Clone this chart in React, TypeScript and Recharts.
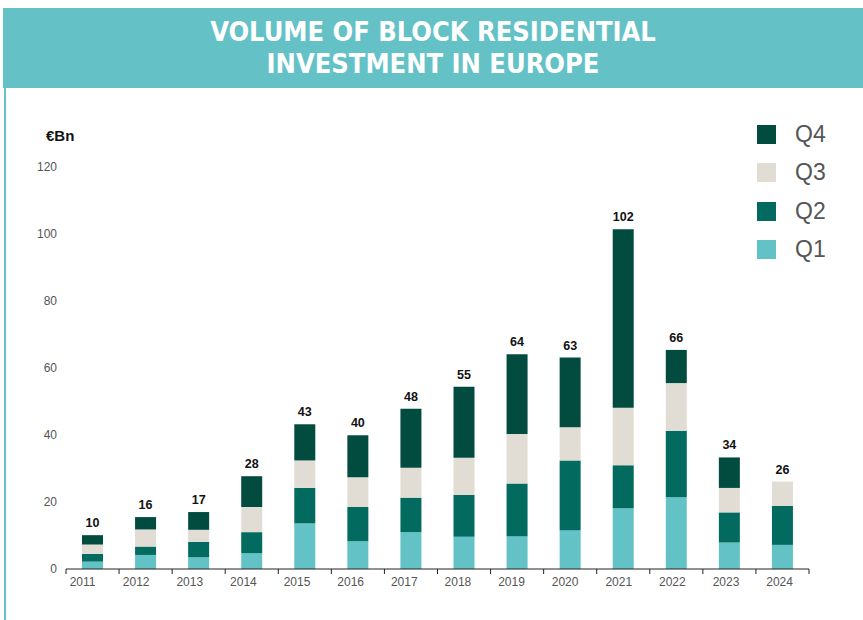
import { BarChart, Bar, XAxis, YAxis, LabelList } from "recharts";

const years = ["2011", "2012", "2013", "2014", "2015", "2016", "2017", "2018", "2019", "2020", "2021", "2022", "2023", "2024"];
const q1 = [2.2, 4.2, 3.5, 4.7, 13.6, 8.3, 11.0, 9.6, 9.8, 11.6, 18.1, 21.4, 7.9, 7.2];
const q2 = [2.3, 2.5, 4.6, 6.3, 10.6, 10.2, 10.3, 12.5, 15.7, 20.8, 12.9, 19.9, 9.0, 11.6];
const q3 = [2.8, 5.1, 3.6, 7.5, 8.2, 8.9, 8.9, 11.1, 14.8, 9.9, 17.1, 14.2, 7.3, 7.3];
const q4 = [2.8, 3.7, 5.3, 9.2, 10.8, 12.5, 17.6, 21.2, 23.8, 20.8, 53.3, 9.9, 9.1, 0];
const totals = [10, 16, 17, 28, 43, 40, 48, 55, 64, 63, 102, 66, 34, 26];
const yTicks = [0, 20, 40, 60, 80, 100, 120];

const colors: Record<string, string> = { q1: "#63c2c6", q2: "#036a5f", q3: "#e1ddd4", q4: "#024b3f" };
const teal = "#64c2c7";
const font = "'Liberation Sans', Arial, sans-serif";

const data = years.map((year, i) => ({
  year,
  q1: q1[i],
  q2: q2[i],
  q3: q3[i],
  q4: q4[i],
  total: totals[i],
}));

const PLOT_LEFT = 66;
const PLOT_RIGHT = 809;
const band = (PLOT_RIGHT - PLOT_LEFT) / years.length;

function YearTick(props: any) {
  const { x, y, payload, index } = props;
  const last = index === years.length - 1;
  // labels in the original drift a little left of the bars
  const dx = -10 + 0.55 * index;
  return (
    <g>
      <line x1={x - band / 2} x2={x - band / 2} y1={y - 8} y2={y - 3} stroke="#222" strokeWidth={1} />
      {last && <line x1={x + band / 2} x2={x + band / 2} y1={y - 8} y2={y - 3} stroke="#222" strokeWidth={1} />}
      <text x={x + dx} y={y + 9} textAnchor="middle" fontSize={12} fill="#555" fontFamily={font}>
        {payload.value}
      </text>
    </g>
  );
}

// total sits on the top segment; when Q4 is empty it goes on Q3
function makeTotalLabel(onQ3: boolean) {
  return (props: any) => {
    const { x, y, width, index } = props;
    const show = onQ3 ? q4[index] === 0 : q4[index] > 0;
    if (!show) return null;
    return (
      <text x={x + width / 2} y={y - 8} textAnchor="middle" fontSize={12.5} fontWeight={700} fill="#111" fontFamily={font}>
        {totals[index]}
      </text>
    );
  };
}

function LegendBox() {
  const items = [
    { key: "q4", label: "Q4" },
    { key: "q3", label: "Q3" },
    { key: "q2", label: "Q2" },
    { key: "q1", label: "Q1" },
  ];
  return (
    <div style={{ position: "absolute", left: 757, top: 115 }}>
      {items.map((it) => (
        <div key={it.key} style={{ display: "flex", alignItems: "center", height: 38.5 }}>
          <span style={{ width: 19, height: 19, background: colors[it.key], display: "inline-block" }} />
          <span style={{ marginLeft: 19, fontSize: 23, color: "#555", fontFamily: font }}>{it.label}</span>
        </div>
      ))}
    </div>
  );
}

export default function App() {
  return (
    <div style={{ position: "absolute", left: 0, top: 0, width: 863, height: 620, background: "#fff", overflow: "hidden" }}>
      <div
        style={{
          position: "absolute",
          left: 3,
          top: 8,
          width: 860,
          height: 80,
          background: teal,
          color: "#fff",
          textAlign: "center",
          fontFamily: "'Liberation Sans Narrow', 'DejaVu Sans Condensed', sans-serif",
          fontWeight: 700,
          fontSize: 27,
          lineHeight: "32px",
          paddingTop: 8,
          boxSizing: "border-box",
        }}
      >
        VOLUME OF BLOCK RESIDENTIAL
        <br />
        INVESTMENT IN EUROPE
      </div>
      <div style={{ position: "absolute", left: 4, top: 88, width: 2, height: 532, background: teal }} />
      <div style={{ position: "absolute", left: 46, top: 127, fontFamily: font, fontWeight: 700, fontSize: 15, color: "#111" }}>
        €Bn
      </div>
      <div style={{ position: "absolute", top: 0, left: 0 }}>
        <BarChart
          width={863}
          height={620}
          data={data}
          margin={{ top: 167, right: 863 - PLOT_RIGHT, bottom: 21, left: PLOT_LEFT - 40 }}
          barSize={21}
        >
          <XAxis
            dataKey="year"
            tick={<YearTick />}
            tickLine={false}
            axisLine={{ stroke: "#222", strokeWidth: 1 }}
            height={30}
            interval={0}
          />
          <YAxis
            domain={[0, 120]}
            ticks={yTicks}
            width={40}
            tickLine={false}
            tickSize={0}
            tickMargin={9}
            axisLine={false}
            tick={{ fontSize: 12, fill: "#555", fontFamily: font }}
          />
          <Bar dataKey="q1" stackId="a" fill={colors.q1} isAnimationActive={false} />
          <Bar dataKey="q2" stackId="a" fill={colors.q2} isAnimationActive={false} />
          <Bar dataKey="q3" stackId="a" fill={colors.q3} isAnimationActive={false}>
            <LabelList dataKey="total" content={makeTotalLabel(true)} />
          </Bar>
          <Bar dataKey="q4" stackId="a" fill={colors.q4} isAnimationActive={false}>
            <LabelList dataKey="total" content={makeTotalLabel(false)} />
          </Bar>
        </BarChart>
      </div>
      <LegendBox />
    </div>
  );
}
